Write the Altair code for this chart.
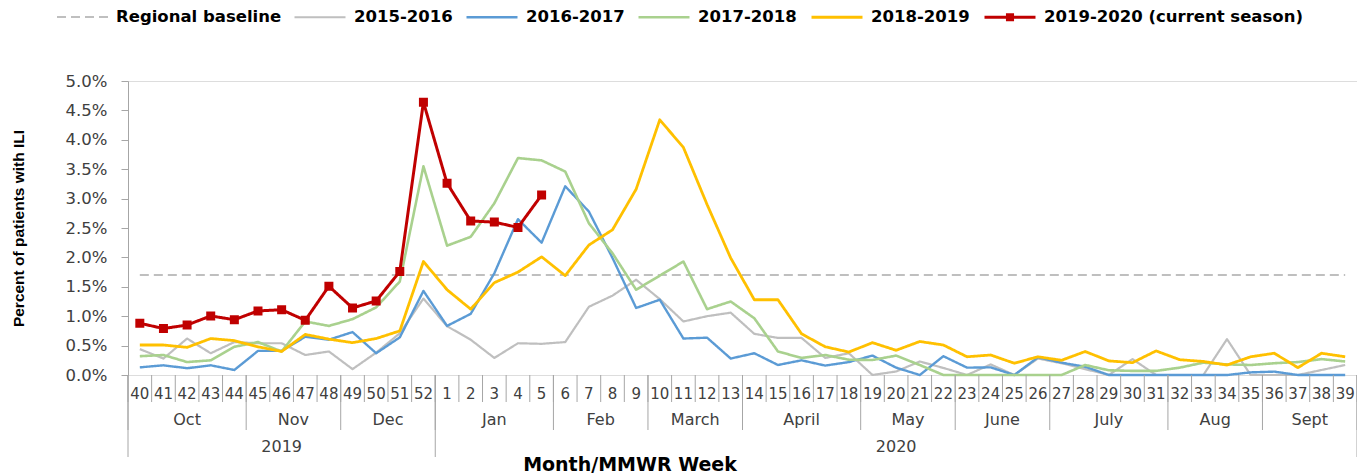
import altair as alt
import pandas as pd

# ---------------- data ----------------
weeks = ["40", "41", "42", "43", "44", "45", "46", "47", "48", "49", "50", "51", "52",
         "1", "2", "3", "4", "5", "6", "7", "8", "9", "10", "11", "12", "13",
         "14", "15", "16", "17", "18", "19", "20", "21", "22", "23", "24", "25", "26",
         "27", "28", "29", "30", "31", "32", "33", "34", "35", "36", "37", "38", "39"]

s2015_2016 = [0.44, 0.28, 0.62, 0.37, 0.56, 0.54, 0.54, 0.34, 0.40, 0.10, 0.38, 0.71, 1.30,
              0.83, 0.60, 0.29, 0.54, 0.53, 0.56, 1.16, 1.35, 1.62, 1.29, 0.91, 1.00, 1.06,
              0.70, 0.63, 0.63, 0.29, 0.37, 0.00, 0.06, 0.23, 0.12, 0.00, 0.18, 0.00, 0.28,
              0.20, 0.10, 0.00, 0.27, 0.00, 0.00, 0.00, 0.61, 0.00, 0.00, 0.00, 0.085, 0.17]

s2016_2017 = [0.13, 0.165, 0.115, 0.165, 0.085, 0.41, 0.41, 0.65, 0.60, 0.73, 0.37, 0.64, 1.43,
              0.835, 1.04, 1.73, 2.65, 2.25, 3.21, 2.78, 1.99, 1.14, 1.28, 0.62, 0.635, 0.28,
              0.37, 0.17, 0.25, 0.16, 0.22, 0.33, 0.125, 0.00, 0.32, 0.125, 0.13, 0.00, 0.30,
              0.21, 0.14, 0.00, 0.00, 0.00, 0.00, 0.00, 0.00, 0.045, 0.057, 0.00, 0.00, 0.00]

s2017_2018 = [0.32, 0.34, 0.22, 0.25, 0.48, 0.56, 0.40, 0.91, 0.835, 0.95, 1.15, 1.59, 3.55,
              2.20, 2.35, 2.92, 3.69, 3.65, 3.46, 2.58, 2.07, 1.45, 1.69, 1.93, 1.12, 1.25,
              0.965, 0.40, 0.29, 0.34, 0.26, 0.255, 0.33, 0.17, 0.00, 0.00, 0.00, 0.00, 0.00,
              0.00, 0.17, 0.08, 0.07, 0.07, 0.125, 0.21, 0.18, 0.17, 0.20, 0.22, 0.27, 0.23]

s2018_2019 = [0.51, 0.51, 0.47, 0.62, 0.585, 0.48, 0.40, 0.69, 0.61, 0.55, 0.62, 0.75, 1.93,
              1.45, 1.12, 1.57, 1.75, 2.01, 1.69, 2.21, 2.47, 3.16, 4.34, 3.87, 2.90, 1.99,
              1.28, 1.28, 0.70, 0.48, 0.39, 0.55, 0.42, 0.57, 0.51, 0.31, 0.34, 0.20, 0.31,
              0.25, 0.40, 0.24, 0.21, 0.41, 0.26, 0.23, 0.17, 0.31, 0.37, 0.125, 0.37, 0.31]

s2019_2020 = [0.88, 0.79, 0.85, 1.005, 0.94, 1.09, 1.11, 0.93, 1.51, 1.14, 1.26, 1.76, 4.64,
              3.26, 2.62, 2.60, 2.51, 3.06]

baseline_value = 1.7

series_names = ["Regional baseline", "2015-2016", "2016-2017", "2017-2018", "2018-2019",
                "2019-2020 (current season)"]
series_colors = ["#BFBFBF", "#BFBFBF", "#5B9BD5", "#A9D18E", "#FFC000", "#C00000"]
series_dashes = [[9, 5], [1, 0], [1, 0], [1, 0], [1, 0], [1, 0]]
series_widths = [2, 3, 3, 3, 3, 3]
# legend/marker symbol: a horizontal stroke, plus a filled square for the current season
LINE_PATH = "M-1,0H1"
SQUARE_PATH = "M-1,0H1M-0.1,-0.1H0.1V0.1H-0.1Z"
marker_paths = [LINE_PATH, LINE_PATH, LINE_PATH, LINE_PATH, LINE_PATH, SQUARE_PATH]

months = ["Oct", "Nov", "Dec", "Jan", "Feb", "March", "April", "May", "June", "July", "Aug", "Sept"]
month_weeks = [5, 4, 4, 5, 4, 4, 5, 4, 4, 5, 4, 4]
years = ["2019", "2020"]
year_weeks = [13, 39]

y_ticks = [0, 0.5, 1.0, 1.5, 2.0, 2.5, 3.0, 3.5, 4.0, 4.5, 5.0]

# ---------------- tables ----------------
rows = [{"series": series_names[0], "x": 0.5, "value": baseline_value},
        {"series": series_names[0], "x": len(weeks) - 0.5, "value": baseline_value}]
for name, vals in zip(series_names[1:], [s2015_2016, s2016_2017, s2017_2018, s2018_2019, s2019_2020]):
    for i, v in enumerate(vals):
        rows.append({"series": name, "x": i + 0.5, "value": v})
df = pd.DataFrame(rows)

df_red = pd.DataFrame({"x": [i + 0.5 for i in range(len(s2019_2020))],
                       "value": s2019_2020,
                       "series": series_names[-1]})

df_weeks = pd.DataFrame({"x": [i + 0.5 for i in range(len(weeks))], "label": weeks})
df_week_bounds = pd.DataFrame({"x": list(range(len(weeks) + 1))})

m_start, m_rows, m_bounds = 0, [], [0]
for m, n in zip(months, month_weeks):
    m_rows.append({"x": m_start + n / 2, "label": m})
    m_start += n
    m_bounds.append(m_start)
df_months = pd.DataFrame(m_rows)
df_month_bounds = pd.DataFrame({"x": m_bounds})

y_start, y_rows, y_bounds = 0, [], [0]
for yr, n in zip(years, year_weeks):
    y_rows.append({"x": y_start + n / 2, "label": yr})
    y_start += n
    y_bounds.append(y_start)
df_years = pd.DataFrame(y_rows)
df_year_bounds = pd.DataFrame({"x": y_bounds})

# ---------------- layout constants ----------------
W, H = 1229, 294
AXIS_GRAY = "#A6A6A6"
TEXT = "#404040"

xscale = alt.Scale(domain=[0, len(weeks)], nice=False, zero=False)
yscale = alt.Scale(domain=[0, 5], nice=False)

x_axis = alt.Axis(labels=False, ticks=False, grid=False, domain=True,
                  domainColor=AXIS_GRAY, domainWidth=1, title=None)
y_axis = alt.Axis(values=y_ticks, grid=False,
                  labelExpr="format(datum.value, '.1f') + '%'",
                  labelFont="DejaVu Sans", labelFontSize=16.5, labelColor=TEXT,
                  labelPadding=14, tickSize=7, tickColor=AXIS_GRAY,
                  domainColor=AXIS_GRAY, domainWidth=1,
                  title="Percent of patients with ILI",
                  titleFont="Liberation Sans", titleFontSize=15.5,
                  titleFontWeight="bold", titleColor="black",
                  titleAngle=270, titleX=-110, titleY=H / 2,
                  titleAlign="center", titleBaseline="middle")

legend = alt.Legend(
    orient="none", legendX=-72, legendY=-91, direction="horizontal", title=None,
    symbolSize=2601, symbolStrokeWidth=3, symbolFillColor="#C00000",
    labelFont="DejaVu Sans", labelFontSize=16.5, labelFontWeight="bold", labelColor="black",
    labelOffset=7, columnPadding=8, labelLimit=400, padding=0,
)

color_enc = alt.Color("series:N", scale=alt.Scale(domain=series_names, range=series_colors),
                      legend=legend)
shape_enc = alt.Shape("series:N", scale=alt.Scale(domain=series_names, range=marker_paths),
                      legend=legend)

lines = alt.Chart(df).mark_line(strokeJoin="round").encode(
    x=alt.X("x:Q", scale=xscale, axis=x_axis),
    y=alt.Y("value:Q", scale=yscale, axis=y_axis),
    color=color_enc,
    strokeDash=alt.StrokeDash("series:N", scale=alt.Scale(domain=series_names, range=series_dashes),
                              legend=legend),
    strokeWidth=alt.StrokeWidth("series:N", scale=alt.Scale(domain=series_names, range=series_widths),
                                legend=None),
)

points = alt.Chart(df_red).mark_point(filled=True, opacity=1, size=8100, strokeWidth=0).encode(
    x=alt.X("x:Q", scale=xscale, axis=x_axis),
    y=alt.Y("value:Q", scale=yscale, axis=y_axis),
    color=color_enc,
    shape=shape_enc,
)

sep_color = dict(color=AXIS_GRAY, strokeWidth=1)

week_seps = alt.Chart(df_week_bounds).mark_rule(**sep_color).encode(
    x=alt.X("x:Q", scale=xscale, axis=None), y=alt.value(H), y2=alt.value(H + 27))
month_seps = alt.Chart(df_month_bounds).mark_rule(**sep_color).encode(
    x=alt.X("x:Q", scale=xscale, axis=None), y=alt.value(H), y2=alt.value(H + 55))
year_seps = alt.Chart(df_year_bounds).mark_rule(**sep_color).encode(
    x=alt.X("x:Q", scale=xscale, axis=None), y=alt.value(H), y2=alt.value(H + 82))

text_style = dict(font="DejaVu Sans", color=TEXT, align="center", baseline="middle")
week_labels = alt.Chart(df_weeks).mark_text(fontSize=15, **text_style).encode(
    x=alt.X("x:Q", scale=xscale, axis=None), y=alt.value(H + 19), text="label:N")
month_labels = alt.Chart(df_months).mark_text(fontSize=16, **text_style).encode(
    x=alt.X("x:Q", scale=xscale, axis=None), y=alt.value(H + 45), text="label:N")
year_labels = alt.Chart(df_years).mark_text(fontSize=16, **text_style).encode(
    x=alt.X("x:Q", scale=xscale, axis=None), y=alt.value(H + 72), text="label:N")

x_title = alt.Chart(pd.DataFrame({"t": ["Month/MMWR Week"]})).mark_text(
    font="DejaVu Sans", fontSize=19, fontWeight="bold", color="black",
    align="center", baseline="middle").encode(
    x=alt.value(502), y=alt.value(H + 90), text="t:N")

chart = alt.layer(
    lines, points,
    week_seps, month_seps, year_seps, week_labels, month_labels, year_labels, x_title,
).properties(
    width=W, height=H,
    padding={"left": 120, "top": 73, "right": 0, "bottom": 100},
    autosize="none",
).configure_view(strokeWidth=0).configure(background="white")

chart.save("out.html", embed_options={"renderer": "svg", "actions": False})
